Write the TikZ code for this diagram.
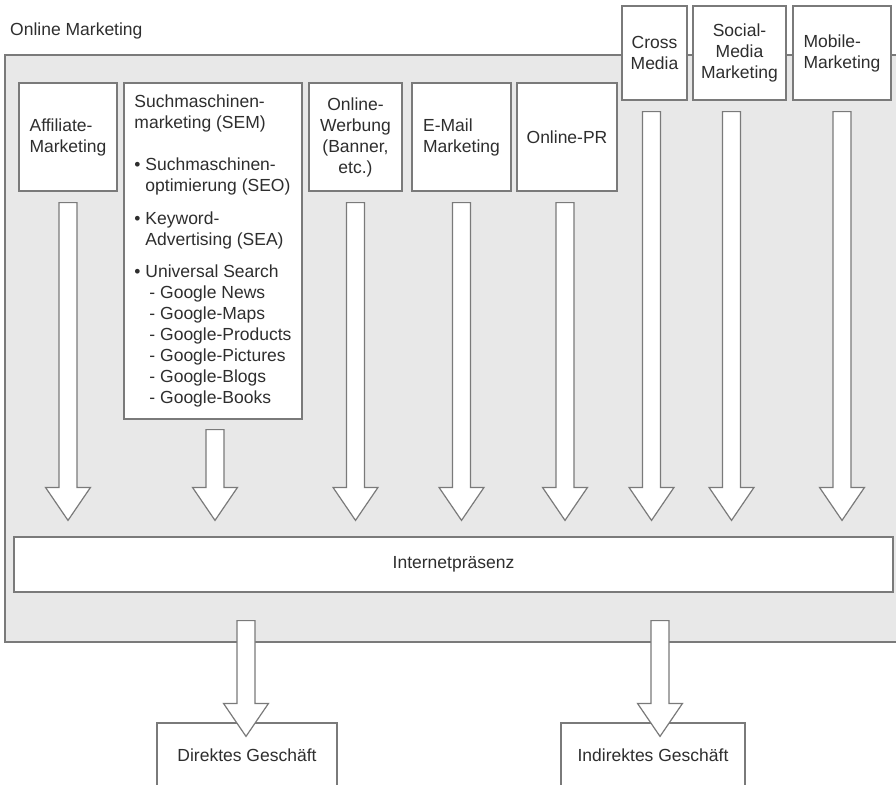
\documentclass[tikz,border=0pt]{standalone}
\usepackage{fontspec}
\setmainfont{Liberation Sans}
\usetikzlibrary{calc}

\definecolor{rim}{HTML}{7A7A7A}
\definecolor{panelgrey}{HTML}{E8E8E8}
\definecolor{ink}{HTML}{2E2E2E}

% hollow block arrow, straight down from #1 to the level of #2
\newcommand{\fatarrow}[2]{%
  \draw[flow] let \p1=#1, \p2=#2 in
    (\x1-9pt,\y1) -- (\x1+9pt,\y1) -- (\x1+9pt,\y2+33pt) -- (\x1+22.5pt,\y2+33pt)
    -- (\x1,\y2) -- (\x1-22.5pt,\y2+33pt) -- (\x1-9pt,\y2+33pt) -- cycle;}

\begin{document}
\begin{tikzpicture}[x=1pt, y=-1pt,
    font=\fontsize{17.5}{21}\selectfont, text=ink,
    panel/.style={draw=rim, fill=panelgrey, line width=1.2pt,
      minimum width=895pt, minimum height=587pt, inner sep=0pt},
    box/.style={draw=rim, fill=white, line width=1.2pt, align=center,
      inner sep=0pt},
    flow/.style={draw=rim, fill=white, line width=1.2pt, line join=miter}
  ]
    \useasboundingbox (0,0) rectangle (896,784);
    \node[panel] (PANEL) at (452.5,348.5) {};
    \node[anchor=west, inner sep=0pt] (TITLE) at (10,31) {Online Marketing};
    \node[box, align=left, minimum width=98pt, minimum height=108pt] (AFF) at (68,137)
      {Affiliate-\\Marketing};
    \node[box, align=left, minimum width=178pt, minimum height=336pt] (SEM) at (213,251)
      {Suchmaschinen-\\marketing (SEM)\\[21pt]
       \textbullet\ Suchmaschinen-\\\hphantom{\textbullet\ }optimierung (SEO)\\[12pt]
       \textbullet\ Keyword-\\\hphantom{\textbullet\ }Advertising (SEA)\\[11pt]
       \textbullet\ Universal Search\\
       \hspace*{15pt}- Google News\\
       \hspace*{15pt}- Google-Maps\\
       \hspace*{15pt}- Google-Products\\
       \hspace*{15pt}- Google-Pictures\\
       \hspace*{15pt}- Google-Blogs\\
       \hspace*{15pt}- Google-Books};
    \node[box, minimum width=93pt, minimum height=108pt] (WEB) at (355.5,137)
      {Online-\\Werbung\\(Banner,\\etc.)};
    \node[box, align=left, minimum width=99pt, minimum height=108pt] (MAIL) at (461.5,137)
      {E-Mail\\Marketing};
    \node[box, minimum width=100pt, minimum height=108pt] (PR) at (567,137)
      {Online-PR};
    \node[box, minimum width=65pt, minimum height=94pt] (CROSS) at (654.5,53)
      {Cross\\Media};
    \node[box, minimum width=93pt, minimum height=94pt] (SOCIAL) at (739.5,53)
      {Social-\\Media\\Marketing};
    \node[box, align=left, minimum width=98pt, minimum height=94pt] (MOBILE) at (842,53)
      {Mobile-\\Marketing};
    \node[box, minimum width=879pt, minimum height=55pt] (NET) at (453.5,564.5)
      {Internetpräsenz};
    \node[box, minimum width=180pt, minimum height=64pt] (DIR) at (247,755)
      {Direktes Geschäft};
    \node[box, minimum width=184pt, minimum height=64pt] (IND) at (653,755)
      {Indirektes Geschäft};
    % channels into the web presence
    \fatarrow{([yshift=-11pt]AFF.south)}{([yshift=16pt]NET.north)}
    \fatarrow{([xshift=2pt,yshift=-10pt]SEM.south)}{([yshift=16pt]NET.north)}
    \fatarrow{([yshift=-11pt]WEB.south)}{([yshift=16pt]NET.north)}
    \fatarrow{([yshift=-11pt]MAIL.south)}{([yshift=16pt]NET.north)}
    \fatarrow{([xshift=-2pt,yshift=-11pt]PR.south)}{([yshift=16pt]NET.north)}
    \fatarrow{([xshift=-3pt,yshift=-11pt]CROSS.south)}{([yshift=16pt]NET.north)}
    \fatarrow{([xshift=-8pt,yshift=-11pt]SOCIAL.south)}{([yshift=16pt]NET.north)}
    \fatarrow{([yshift=-11pt]MOBILE.south)}{([yshift=16pt]NET.north)}
    % web presence into business
    \coordinate (DTOP) at (DIR.north |- NET.south);
    \coordinate (ITOP) at (IND.north |- NET.south);
    \fatarrow{([xshift=-1pt,yshift=-28pt]DTOP)}{([yshift=-14pt]DIR.north)}
    \fatarrow{([xshift=7pt,yshift=-28pt]ITOP)}{([yshift=-14pt]IND.north)}
\end{tikzpicture}
\end{document}
